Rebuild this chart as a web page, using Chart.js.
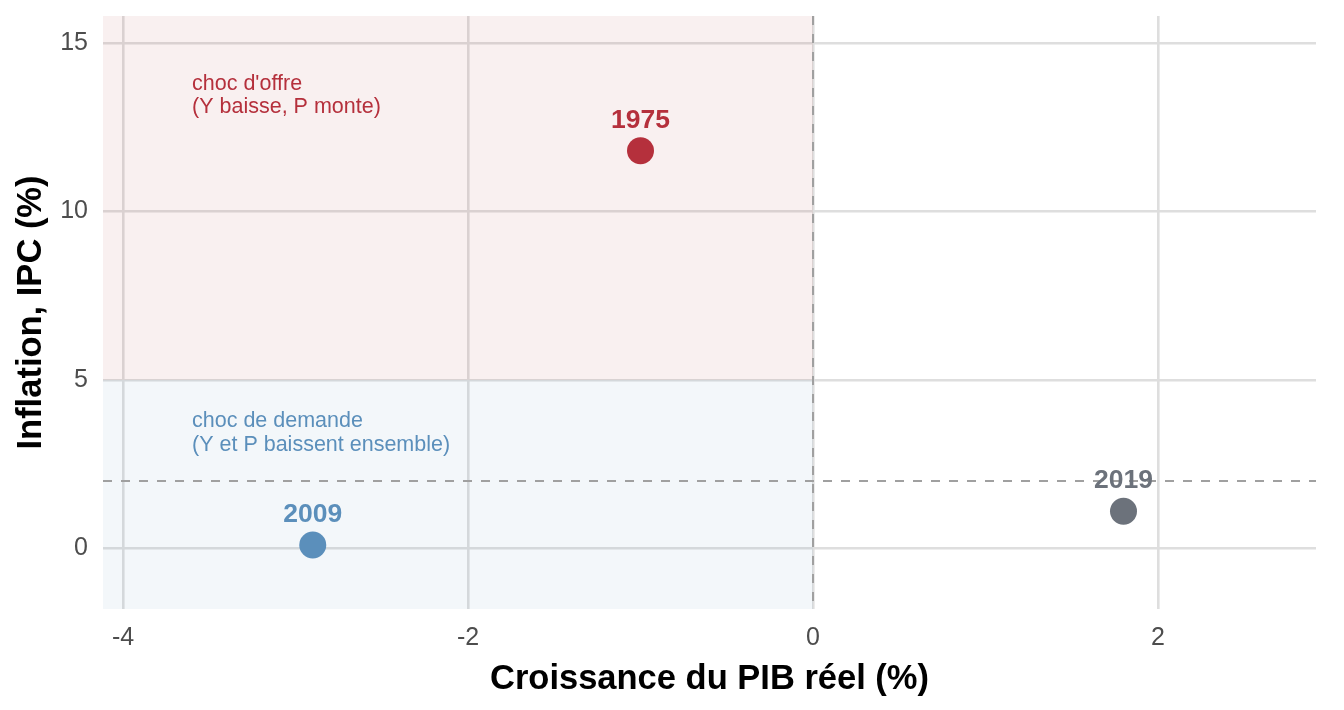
<!DOCTYPE html>
<html>
<head>
<meta charset="utf-8">
<script src="https://cdn.jsdelivr.net/npm/chart.js@4"></script>
<style>
  html, body { margin: 0; padding: 0; background: #fff; }
  #wrap { width: 1344px; height: 710px; }
</style>
</head>
<body>
<div id="wrap"><canvas id="choc"></canvas></div>
<script>
// donnees
var annees = ['1975', '2009', '2019'];
var croissancePIB = [-1.0, -2.9, 1.8];
var inflationIPC = [11.8, 0.1, 1.1];
var couleurs = ['#b5303c', '#5b8fbb', '#6c727b'];

var ticksX = [-4, -2, 0, 2];
var ticksY = [0, 5, 10, 15];
var limitesX = [-4.116, 2.916];
var limitesY = [-1.8, 15.8];

// seuils des zones
var seuilCroissance = 0;
var seuilInflation = 5;
var cibleInflation = 2;

// textes des zones (x, y en unites des axes)
var zoneTextes = [
    { lignes: ["choc d'offre", '(Y baisse, P monte)'], x: -3.6, y: 13.78, couleur: '#b5303c' },
    { lignes: ['choc de demande', '(Y et P baissent ensemble)'], x: -3.6, y: 3.77, couleur: '#5b8fbb' }
];

var police = '"Liberation Sans", Arial, sans-serif';

var zonesPlugin = {
    id: 'zones',
    beforeDatasetsDraw: function (chart) {
        var ctx = chart.ctx;
        var area = chart.chartArea;
        var sx = chart.scales.x, sy = chart.scales.y;
        var x0 = sx.getPixelForValue(seuilCroissance);
        var y5 = sy.getPixelForValue(seuilInflation);
        ctx.save();
        ctx.fillStyle = 'rgba(181, 48, 60, 0.075)';
        ctx.fillRect(area.left, area.top, x0 - area.left, y5 - area.top);
        ctx.fillStyle = 'rgba(91, 143, 187, 0.075)';
        ctx.fillRect(area.left, y5, x0 - area.left, area.bottom - y5);

        // lignes pointillees
        ctx.strokeStyle = '#a0a0a0';
        ctx.lineWidth = 2;
        ctx.setLineDash([9, 9]);
        ctx.beginPath();
        ctx.moveTo(x0, area.top);
        ctx.lineTo(x0, area.bottom);
        var y2 = sy.getPixelForValue(cibleInflation);
        ctx.moveTo(area.left, y2);
        ctx.lineTo(area.right, y2);
        ctx.stroke();
        ctx.setLineDash([]);

        // textes des zones
        ctx.font = '21.5px ' + police;
        ctx.textAlign = 'left';
        ctx.textBaseline = 'middle';
        zoneTextes.forEach(function (z) {
            ctx.fillStyle = z.couleur;
            var px = sx.getPixelForValue(z.x);
            var py = sy.getPixelForValue(z.y);
            z.lignes.forEach(function (l, i) {
                ctx.fillText(l, px, py + i * 23.5);
            });
        });
        ctx.restore();
    },
    afterDatasetsDraw: function (chart) {
        var ctx = chart.ctx;
        var meta = chart.getDatasetMeta(0);
        ctx.save();
        ctx.font = 'bold 26.5px ' + police;
        ctx.textAlign = 'center';
        ctx.textBaseline = 'middle';
        meta.data.forEach(function (pt, i) {
            ctx.fillStyle = couleurs[i];
            ctx.fillText(annees[i], pt.x, pt.y - 30.5);
        });
        ctx.restore();
    }
};

var points = croissancePIB.map(function (v, i) {
    return { x: v, y: inflationIPC[i] };
});

new Chart(document.getElementById('choc'), {
    type: 'scatter',
    data: {
        datasets: [{
            label: 'Inflation vs croissance',
            data: points,
            backgroundColor: couleurs,
            borderWidth: 0,
            pointRadius: 13.5,
            pointHoverRadius: 13.5
        }]
    },
    options: {
        responsive: true,
        maintainAspectRatio: false,
        animation: false,
        events: [],
        layout: { padding: { top: 16, right: 28, left: 0, bottom: 0 } },
        plugins: {
            legend: { display: false },
            tooltip: { enabled: false }
        },
        scales: {
            x: {
                type: 'linear',
                min: limitesX[0],
                max: limitesX[1],
                border: { display: false },
                grid: { color: '#dedede', lineWidth: 2.6, drawTicks: false },
                afterBuildTicks: function (s) { s.ticks = ticksX.map(function (v) { return { value: v }; }); },
                afterFit: function (s) { s.height = 101; s.paddingLeft = 0; s.paddingRight = 0; },
                ticks: {
                    color: '#4d4d4d',
                    font: { family: police, size: 25 },
                    padding: 14,
                    callback: function (v) { return v < 0 ? '-' + Math.abs(v) : String(v); }
                },
                title: {
                    display: true,
                    text: 'Croissance du PIB réel (%)',
                    color: '#000',
                    font: { family: police, size: 34.5, weight: 'bold' },
                    padding: { top: 4, bottom: 10 }
                }
            },
            y: {
                type: 'linear',
                min: limitesY[0],
                max: limitesY[1],
                border: { display: false },
                grid: { color: '#dedede', lineWidth: 2.6, drawTicks: false },
                afterBuildTicks: function (s) { s.ticks = ticksY.map(function (v) { return { value: v }; }); },
                afterFit: function (s) { s.width = 103; s.paddingTop = 0; s.paddingBottom = 0; },
                ticks: {
                    color: '#4d4d4d',
                    font: { family: police, size: 25 },
                    padding: 15
                },
                title: {
                    display: true,
                    text: 'Inflation, IPC (%)',
                    color: '#000',
                    font: { family: police, size: 34.5, weight: 'bold' },
                    padding: { top: 11, bottom: 0 }
                }
            }
        }
    },
    plugins: [zonesPlugin]
});
</script>
</body>
</html>
